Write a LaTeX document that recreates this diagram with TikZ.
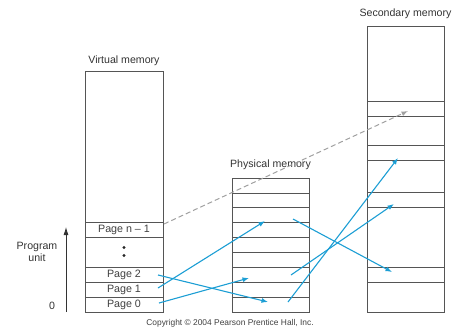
\documentclass[tikz,border=0pt]{standalone}
\usepackage{fontspec}
\setmainfont{Liberation Sans}
\usetikzlibrary{arrows.meta}
\definecolor{boxgray}{RGB}{85,85,85}
\definecolor{linkblue}{RGB}{28,158,212}
\definecolor{dashgray}{RGB}{160,160,160}
\begin{document}
\begin{tikzpicture}[x=1pt,y=-1pt,
  memrow/.style={draw=boxgray,line width=0.6pt,minimum width=77pt,inner sep=0pt,outer sep=0pt,font=\fontsize{10.7}{12}\selectfont,text=black!75},
  lbl/.style={font=\fontsize{10.6}{12}\selectfont,text=black!80,inner sep=0pt},
  link/.style={draw=linkblue,line width=1.1pt,-{Latex[length=6.5pt,width=5pt]}},
  dashlink/.style={draw=dashgray,line width=1pt,dash pattern=on 5pt off 3pt,-{Latex[length=6.5pt,width=5pt]}}]
\useasboundingbox (0,0) rectangle (459,330);
% Virtual memory
\node[memrow,minimum width=78pt,minimum height=151pt,anchor=north] (vtop) at (124,71) {};
\node[memrow,minimum width=78pt,minimum height=15pt,anchor=north] (vn) at (124,222) {Page n -- 1};
\node[memrow,minimum width=78pt,minimum height=30pt,anchor=north] (vdots) at (124,237) {};
\node[memrow,minimum width=78pt,minimum height=15pt,anchor=north] (v2) at (124,267) {Page 2};
\node[memrow,minimum width=78pt,minimum height=15pt,anchor=north] (v1) at (124,282) {Page 1};
\node[memrow,minimum width=78pt,minimum height=15pt,anchor=north] (v0) at (124,297) {Page 0};
\fill[black!85] (124,247.5) circle (1.6pt) (124,255.5) circle (1.6pt);
\node[lbl] (vlabel) at (124,61) {Virtual memory};
% Program unit arrow
\coordinate (pu0) at (66,312);
\coordinate (pu1) at (66,227);
\draw[black!80,line width=0.8pt,-{Latex[length=8pt,width=5pt]}] (pu0) -- (pu1);
\node[lbl,align=center] (pulabel) at (37,252) {Program\\[0pt]unit};
\node[lbl] (zero) at (52,306) {0};
% Physical memory
\foreach \i in {0,...,8} {
  \node[memrow,minimum height=14.889pt,anchor=north] (p\i) at (270.5,{178+14.889*\i}) {};
}
\node[lbl] (plabel) at (270.5,165) {Physical memory};
% Secondary memory
\node[memrow,minimum height=75pt,anchor=north] (s0) at (405.5,26) {};
\node[memrow,minimum height=15pt,anchor=north] (s1) at (405.5,101) {};
\node[memrow,minimum height=29pt,anchor=north] (s2) at (405.5,116) {};
\node[memrow,minimum height=15pt,anchor=north] (s3) at (405.5,145) {};
\node[memrow,minimum height=32pt,anchor=north] (s4) at (405.5,160) {};
\node[memrow,minimum height=15pt,anchor=north] (s5) at (405.5,192) {};
\node[memrow,minimum height=60pt,anchor=north] (s6) at (405.5,207) {};
\node[memrow,minimum height=15pt,anchor=north] (s7) at (405.5,267) {};
\node[memrow,minimum height=30pt,anchor=north] (s8) at (405.5,282) {};
\node[lbl] (slabel) at (405.5,14) {Secondary memory};
% endpoints
\coordinate (a1s) at (158,288); \coordinate (a1e) at (265,221);
\coordinate (a2s) at (158,275); \coordinate (a2e) at (268,302);
\coordinate (a3s) at (159,303); \coordinate (a3e) at (249,278);
\coordinate (b1s) at (293,219); \coordinate (b1e) at (392,272);
\coordinate (b2s) at (291,275); \coordinate (b2e) at (394,204);
\coordinate (b3s) at (288,302); \coordinate (b3e) at (398,158);
\coordinate (ds) at (164,224); \coordinate (de) at (408,111);
\draw[dashlink] (ds) -- (de);
\draw[link] (a1s) -- (a1e);
\draw[link] (a2s) -- (a2e);
\draw[link] (a3s) -- (a3e);
\draw[link] (b1s) -- (b1e);
\draw[link] (b2s) -- (b2e);
\draw[link] (b3s) -- (b3e);
% copyright
\node[font=\fontsize{8.4}{9}\selectfont,text=black!75,inner sep=0pt] (copy) at (230,323) {Copyright © 2004 Pearson Prentice Hall, Inc.};
\end{tikzpicture}
\end{document}
